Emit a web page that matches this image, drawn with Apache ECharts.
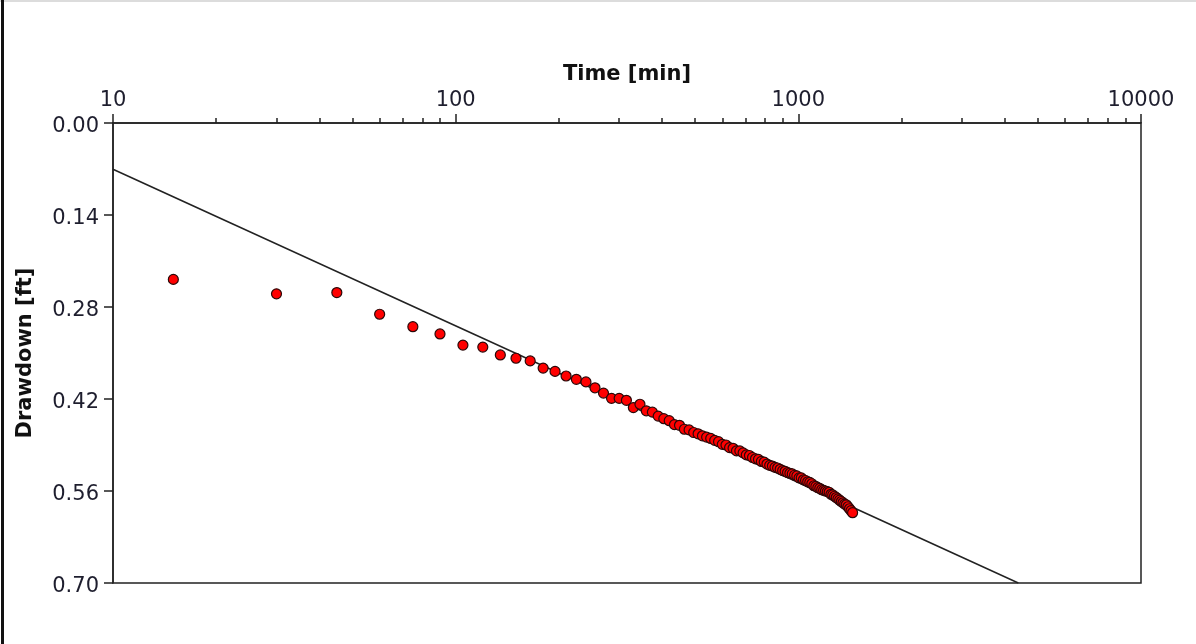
<!DOCTYPE html>
<html>
<head>
<meta charset="utf-8">
<script src="https://cdn.jsdelivr.net/npm/echarts@6/dist/echarts.min.js"></script>
<style>
  html, body { margin: 0; padding: 0; background: #fff; }
  #wrap { position: relative; width: 1196px; height: 644px; overflow: hidden; }
  #main { position: absolute; left: 0; top: 0; width: 1196px; height: 644px; }
  .edge { position: absolute; pointer-events: none; }
</style>
</head>
<body>
<div id="wrap">
  <div id="main"></div>
  <div class="edge" style="left:0;top:0;width:1196px;height:2px;background:#dcdcdc;"></div>
  <div class="edge" style="left:1px;top:0;width:3px;height:644px;background:#111;"></div>
</div>
<script>
// pumping test: time since start [min]
var times = [
  15, 30, 45, 60, 75, 90, 105, 120, 135, 150, 165, 180,
  195, 210, 225, 240, 255, 270, 285, 300, 315, 330, 345, 360,
  375, 390, 405, 420, 435, 450, 465, 480, 495, 510, 525, 540,
  555, 570, 585, 600, 615, 630, 645, 660, 675, 690, 705, 720,
  735, 750, 765, 780, 795, 810, 825, 840, 855, 870, 885, 900,
  915, 930, 945, 960, 975, 990, 1005, 1020, 1035, 1050, 1065, 1080,
  1095, 1110, 1125, 1140, 1155, 1170, 1185, 1200, 1215, 1230, 1245, 1260,
  1275, 1290, 1305, 1320, 1335, 1350, 1365, 1380, 1395, 1410, 1425, 1440
];
// observed drawdown [ft]
var drawdown = [
  0.238, 0.260, 0.258, 0.291, 0.310, 0.321, 0.338, 0.341, 0.353, 0.358, 0.362, 0.373,
  0.378, 0.385, 0.390, 0.394, 0.403, 0.411, 0.419, 0.419, 0.422, 0.433, 0.428, 0.438,
  0.440, 0.446, 0.450, 0.453, 0.459, 0.460, 0.466, 0.467, 0.471, 0.473, 0.476, 0.478,
  0.480, 0.483, 0.485, 0.489, 0.490, 0.494, 0.495, 0.499, 0.499, 0.502, 0.505, 0.506,
  0.509, 0.511, 0.512, 0.515, 0.516, 0.519, 0.521, 0.522, 0.524, 0.525, 0.527, 0.529,
  0.530, 0.532, 0.533, 0.534, 0.536, 0.537, 0.540, 0.540, 0.543, 0.544, 0.546, 0.547,
  0.549, 0.552, 0.553, 0.555, 0.556, 0.558, 0.559, 0.560, 0.561, 0.562, 0.565, 0.566,
  0.568, 0.570, 0.572, 0.574, 0.576, 0.578, 0.580, 0.581, 0.584, 0.587, 0.590, 0.593
];
// straight line fit (Cooper-Jacob)
var fitTime = [10, 4385];
var fitDrawdown = [0.0704, 0.70];

// minor ticks on the log time axis
var minorTicks = [
  20, 30, 40, 50, 60, 70, 80, 90,
  200, 300, 400, 500, 600, 700, 800, 900,
  2000, 3000, 4000, 5000, 6000, 7000, 8000, 9000
];

var labelFont = { fontFamily: 'DejaVu Sans', fontSize: 21, color: '#1e1e2e' };

var obs = times.map(function (t, i) { return [t, drawdown[i]]; });
var fit = fitTime.map(function (t, i) { return [t, fitDrawdown[i]]; });

var chart = echarts.init(document.getElementById('main'));
chart.setOption({
  animation: false,
  grid: {
    left: 113, right: 55, top: 123, bottom: 61,
    show: true, borderColor: '#222', borderWidth: 1.5,
    containLabel: false, outerBoundsMode: 'none'
  },
  xAxis: [
    {
      type: 'log', logBase: 10, min: 10, max: 10000, position: 'top',
      name: 'Time [min]', nameLocation: 'middle', nameGap: 36,
      nameTextStyle: { fontFamily: 'DejaVu Sans', fontSize: 21, fontWeight: 'bold', color: '#111' },
      axisLine: { show: true, lineStyle: { color: '#222', width: 1.5 } },
      axisTick: { show: true, inside: false, length: 9, lineStyle: { color: '#222', width: 1.5 } },
      axisLabel: Object.assign({ margin: 12, formatter: function (v) { return String(Math.round(v)); } }, labelFont),
      splitLine: { show: false }
    },
    {
      type: 'log', logBase: 10, min: 10, max: 10000, position: 'top',
      axisLine: { show: false },
      axisTick: { show: true, length: 5, customValues: minorTicks, lineStyle: { color: '#222', width: 1.5 } },
      axisLabel: { show: false },
      splitLine: { show: false }
    }
  ],
  yAxis: {
    type: 'value', inverse: true, min: 0, max: 0.7, interval: 0.14,
    name: 'Drawdown [ft]', nameLocation: 'middle', nameGap: 77, nameRotate: 90,
    nameTextStyle: { fontFamily: 'DejaVu Sans', fontSize: 21, fontWeight: 'bold', color: '#111' },
    axisLine: { show: true, lineStyle: { color: '#222', width: 1.5 } },
    axisTick: { show: true, length: 9, lineStyle: { color: '#222', width: 1.5 } },
    axisLabel: Object.assign({
      margin: 14,
      formatter: function (v) { return '{v|' + v.toFixed(2) + '}'; },
      rich: { v: { fontFamily: 'DejaVu Sans', fontSize: 21, color: '#1e1e2e', padding: [7, 0, 0, 0] } }
    }, labelFont),
    splitLine: { show: false }
  },
  series: [
    {
      type: 'line', xAxisIndex: 0, data: fit, symbol: 'none',
      lineStyle: { color: '#222', width: 1.5 }, z: 2
    },
    {
      type: 'scatter', xAxisIndex: 0, data: obs, symbolSize: 10,
      itemStyle: { color: '#ff0000', borderColor: '#2a0808', borderWidth: 1.2, opacity: 1 }, z: 3
    }
  ]
});
</script>
</body>
</html>
